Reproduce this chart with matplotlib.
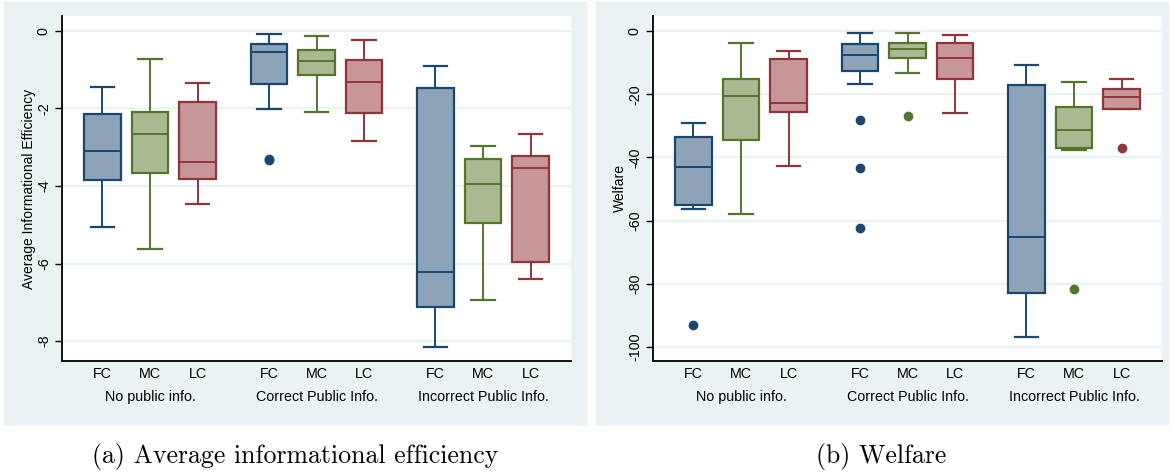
import matplotlib
matplotlib.use("Agg")
import matplotlib.pyplot as plt
from matplotlib.patches import Rectangle

# categories
coord = ["FC", "MC", "LC"]
groups = ["No public info.", "Correct Public Info.", "Incorrect Public Info."]

# (a) average informational efficiency, box stats per group x coordination
ie_med = [-3.09, -2.67, -3.37, -0.54, -0.77, -1.31, -6.21, -3.96, -3.54]
ie_q1 = [-3.84, -3.66, -3.82, -1.36, -1.13, -2.11, -7.12, -4.96, -5.97]
ie_q3 = [-2.15, -2.08, -1.84, -0.34, -0.50, -0.75, -1.48, -3.30, -3.22]
ie_lo = [-5.05, -5.62, -4.46, -2.02, -2.08, -2.83, -8.16, -6.95, -6.41]
ie_hi = [-1.45, -0.71, -1.33, -0.07, -0.14, -0.22, -0.91, -2.96, -2.66]
ie_out = [[], [], [], [-3.33, -3.30], [], [], [], [], []]

# (b) welfare
w_med = [-43.1, -20.5, -22.9, -7.6, -5.7, -8.4, -65.3, -31.4, -21.0]
w_q1 = [-55.0, -34.5, -25.6, -12.6, -8.6, -15.2, -82.9, -37.1, -24.7]
w_q3 = [-33.4, -15.3, -8.9, -4.1, -3.9, -3.9, -17.1, -24.0, -18.3]
w_lo = [-56.2, -57.9, -42.7, -16.7, -13.4, -25.9, -96.8, -37.6, -24.7]
w_hi = [-29.2, -3.8, -6.3, -0.7, -0.5, -1.3, -10.8, -16.0, -15.3]
w_out = [[-92.9], [], [], [-28.1, -43.2, -62.4], [-26.8], [], [], [-81.6], [-36.9]]

edge = ["#1a476f", "#55752f", "#90353b"]
fill = ["#8da3b8", "#abb993", "#c8979a"]
bg = "#eaf2f3"

W, H = 1170, 472
fig = plt.figure(figsize=(W / 100, H / 100), dpi=100)
plt.rcParams["font.family"] = ["Liberation Sans", "DejaVu Sans"]

# light panel backgrounds
for x0, x1 in [(4, 586), (596, 1168)]:
    fig.patches.append(Rectangle((x0 / W, 1 - 424 / H), (x1 - x0) / W, 422 / H,
                                 transform=fig.transFigure, color=bg, zorder=-5))

pos = [0, 1, 2, 3.5, 4.5, 5.5, 7, 8, 9]
fs = 10.3


def draw(rect, med, q1, q3, lo, hi, out, ylim, yticks, ylabel):
    ax = fig.add_axes(rect)
    stats = []
    for i in range(9):
        stats.append(dict(med=med[i], q1=q1[i], q3=q3[i], whislo=lo[i],
                          whishi=hi[i], fliers=out[i]))
    for i in range(9):
        c = i % 3
        ax.bxp([stats[i]], positions=[pos[i]], widths=0.76, capwidths=0.5,
               patch_artist=True, manage_ticks=False,
               boxprops=dict(facecolor=fill[c], edgecolor=edge[c], linewidth=1.6),
               medianprops=dict(color=edge[c], linewidth=1.4),
               whiskerprops=dict(color=edge[c], linewidth=1.4),
               capprops=dict(color=edge[c], linewidth=1.6),
               flierprops=dict(marker="o", markerfacecolor=edge[c],
                               markeredgecolor=edge[c], markersize=6))
    ax.set_xlim(-0.85, 9.85)
    ax.set_ylim(*ylim)
    ax.set_yticks(yticks)
    ax.set_yticklabels([str(t) for t in yticks], rotation=90, va="center", fontsize=fs)
    ax.yaxis.grid(True, color=bg, linewidth=1.6)
    ax.set_axisbelow(True)
    ax.set_xticks(pos)
    ax.set_xticklabels(coord * 3, fontsize=fs)
    ax.tick_params(axis="x", length=0, pad=4)
    ax.tick_params(axis="y", length=5, width=1, pad=3)
    for s in ["top", "right"]:
        ax.spines[s].set_visible(False)
    for s in ["left", "bottom"]:
        ax.spines[s].set_linewidth(1.3)
    for g in range(3):
        ax.text(pos[3 * g + 1], -0.104, groups[g], ha="center", va="center",
                fontsize=fs, transform=ax.get_xaxis_transform())
    ax.set_ylabel(ylabel, fontsize=10)
    ax.yaxis.set_label_coords(-0.051, 0.5)
    return ax


draw([62 / W, 1 - 361 / H, 509 / W, 345 / H], ie_med, ie_q1, ie_q3, ie_lo, ie_hi,
     ie_out, (-8.516, 0.387), [0, -2, -4, -6, -8], "Average Informational Efficiency")
draw([653 / W, 1 - 361 / H, 509 / W, 345 / H], w_med, w_q1, w_q3, w_lo, w_hi,
     w_out, (-104.4, 4.75), [0, -20, -40, -60, -80, -100], "Welfare")

fig.text(295 / W, 1 - 456 / H, "(a) Average informational efficiency", ha="center",
         va="center", fontsize=18.6, family="cmr10")
fig.text(881 / W, 1 - 456 / H, "(b) Welfare", ha="center", va="center",
         fontsize=18.6, family="cmr10")

fig.savefig("out.png", dpi=100)
